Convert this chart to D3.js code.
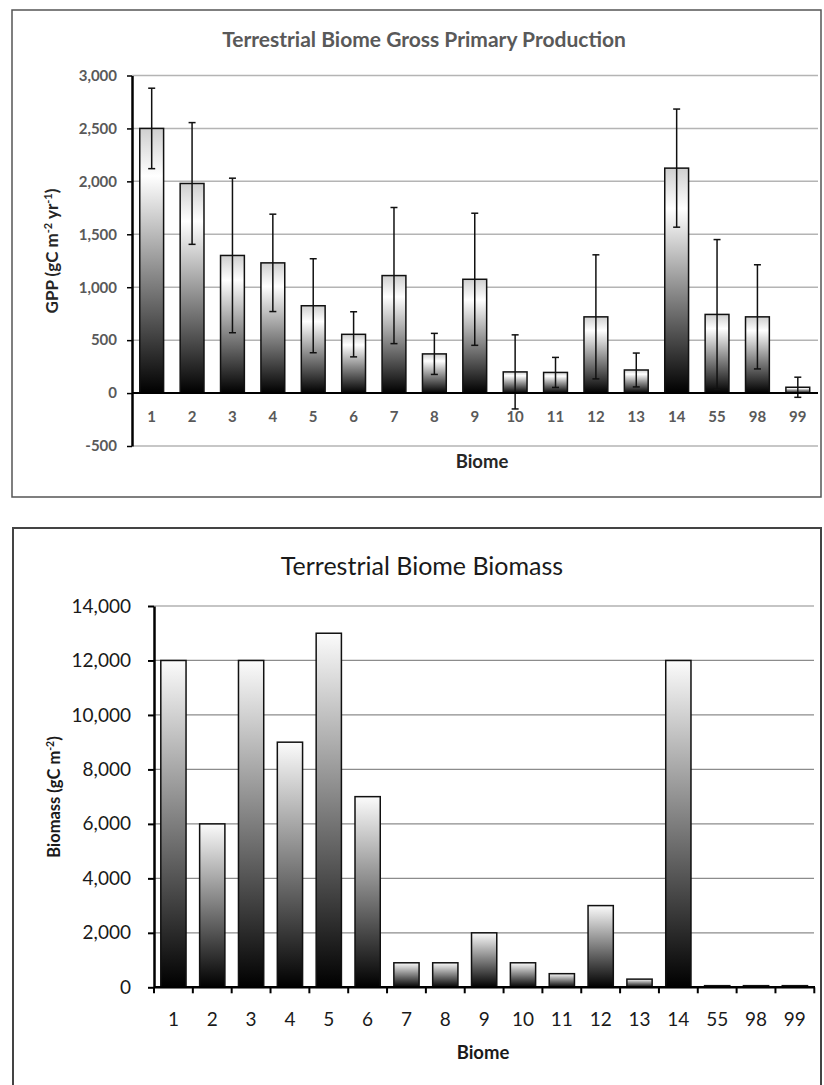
<!DOCTYPE html>
<html>
<head>
<meta charset="utf-8">
<script src="https://cdn.jsdelivr.net/npm/d3@7"></script>
<style>
  body { margin: 0; background: #fff; }
  svg { display: block; font-family: Lato, "Open Sans", sans-serif; }
</style>
</head>
<body>
<svg width="824" height="1085"></svg>
<script>
// data
var biomes = ["1","2","3","4","5","6","7","8","9","10","11","12","13","14","55","98","99"];
var gppMean = [2500,1980,1300,1230,825,555,1110,370,1075,200,195,720,218,2125,743,720,55];
var gppErr = [380,575,730,460,444,213,643,194,624,350,142,586,160,558,707,492,95];
var gppTicks = [-500,0,500,1000,1500,2000,2500,3000];
var biomass = [12000,6000,12000,9000,13000,7000,900,900,2000,900,500,3000,300,12000,60,60,60];
var biomassTicks = [0,2000,4000,6000,8000,10000,12000,14000];

var svg = d3.select('svg');
var comma = d3.format(',');
var fmt = function(d){ return comma(d).replace('\u2212', '-'); };
var defs = svg.append('defs');

// gradients, one per chart
var g1 = defs.append('linearGradient').attr('id','gradTop')
  .attr('x1',0).attr('y1',0).attr('x2',0).attr('y2',1);
g1.append('stop').attr('offset','0%').attr('stop-color','#cfcfcf');
g1.append('stop').attr('offset','18%').attr('stop-color','#ffffff');
g1.append('stop').attr('offset','55%').attr('stop-color','#8a8a8a');
g1.append('stop').attr('offset','100%').attr('stop-color','#000');

var g2 = defs.append('linearGradient').attr('id','gradBot')
  .attr('x1',0).attr('y1',0).attr('x2',0).attr('y2',1);
g2.append('stop').attr('offset','0%').attr('stop-color','#fbfbfb');
g2.append('stop').attr('offset','100%').attr('stop-color','#000');

var rows = biomes.map(function(b, i){
  return {biome: b, gpp: gppMean[i], err: gppErr[i], mass: biomass[i]};
});

// ---------- top chart: GPP ----------
svg.append('rect').attr('x',12).attr('y',10).attr('width',809).attr('height',487)
  .attr('fill','none').attr('stroke','#555').attr('stroke-width',1.5);

var x1 = d3.scaleBand().domain(biomes).range([131.5, 818]).paddingInner(0.41).paddingOuter(0.205);
var y1 = d3.scaleLinear().domain([-500, 3000]).range([446, 75.5]);

var gTop = svg.append('g');

gTop.append('g').selectAll('line').data(gppTicks).enter().append('line')
  .attr('x1',132).attr('x2',818)
  .attr('y1',function(d){return y1(d);}).attr('y2',function(d){return y1(d);})
  .attr('stroke','#b4b4b4').attr('stroke-width',1.5);

gTop.append('g').selectAll('rect').data(rows).enter().append('rect')
  .attr('x',function(d){return x1(d.biome);})
  .attr('width',x1.bandwidth())
  .attr('y',function(d){return y1(d.gpp);})
  .attr('height',function(d){return y1(0) - y1(d.gpp);})
  .attr('fill','url(#gradTop)').attr('stroke','#111').attr('stroke-width',1.5);

var eb = gTop.append('g').selectAll('g').data(rows).enter().append('g')
  .attr('stroke','#111').attr('stroke-width',1.5);
eb.append('line')
  .attr('x1',function(d){return x1(d.biome) + x1.bandwidth()/2;})
  .attr('x2',function(d){return x1(d.biome) + x1.bandwidth()/2;})
  .attr('y1',function(d){return y1(d.gpp + d.err);})
  .attr('y2',function(d){return y1(d.gpp - d.err);});
eb.append('line')
  .attr('x1',function(d){return x1(d.biome) + x1.bandwidth()/2 - 3.5;})
  .attr('x2',function(d){return x1(d.biome) + x1.bandwidth()/2 + 3.5;})
  .attr('y1',function(d){return y1(d.gpp + d.err);})
  .attr('y2',function(d){return y1(d.gpp + d.err);});
eb.append('line')
  .attr('x1',function(d){return x1(d.biome) + x1.bandwidth()/2 - 3.5;})
  .attr('x2',function(d){return x1(d.biome) + x1.bandwidth()/2 + 3.5;})
  .attr('y1',function(d){return y1(d.gpp - d.err);})
  .attr('y2',function(d){return y1(d.gpp - d.err);});

// zero line
gTop.append('line').attr('x1',132).attr('x2',818).attr('y1',y1(0)).attr('y2',y1(0))
  .attr('stroke','#000').attr('stroke-width',2);

var ya1 = gTop.append('g').attr('transform','translate(132,0)')
  .call(d3.axisLeft(y1).tickValues(gppTicks).tickFormat(fmt).tickSize(5).tickSizeOuter(0).tickPadding(10));
ya1.select('.domain').attr('stroke','#000').attr('stroke-width',2.5);
ya1.selectAll('.tick line').attr('stroke','#000').attr('stroke-width',1.5);
ya1.selectAll('.tick text').attr('fill','#595959').attr('font-family','Lato, sans-serif')
  .attr('font-size',15).attr('font-weight','bold');

gTop.append('g').selectAll('text').data(biomes).enter().append('text')
  .attr('x',function(d){return x1(d) + x1.bandwidth()/2;})
  .attr('y',422).attr('text-anchor','middle')
  .attr('fill','#595959').attr('font-size',15).attr('font-weight','bold')
  .text(function(d){return d;});

gTop.append('text').attr('x',424).attr('y',47).attr('text-anchor','middle')
  .attr('fill','#595959').attr('font-size',21).attr('font-weight','bold')
  .text('Terrestrial Biome Gross Primary Production');

gTop.append('text').attr('x',482).attr('y',468).attr('text-anchor','middle')
  .attr('fill','#262626').attr('font-size',18.5).attr('font-weight','bold')
  .text('Biome');

var yl1 = gTop.append('text').attr('transform','translate(58,251) rotate(-90)')
  .attr('text-anchor','middle').attr('fill','#262626').attr('font-size',17).attr('font-weight','bold');
yl1.append('tspan').text('GPP (gC m');
yl1.append('tspan').attr('font-size',11).attr('dy',-6).text('-2');
yl1.append('tspan').attr('dy',6).text(' yr');
yl1.append('tspan').attr('font-size',11).attr('dy',-6).text('-1');
yl1.append('tspan').attr('dy',6).text(')');

// ---------- bottom chart: biomass ----------
svg.append('rect').attr('x',13).attr('y',528).attr('width',808).attr('height',570)
  .attr('fill','none').attr('stroke','#444').attr('stroke-width',2);

var x2 = d3.scaleBand().domain(biomes).range([154, 814.3]).paddingInner(0.35).paddingOuter(0.175);
var y2 = d3.scaleLinear().domain([0, 14000]).range([987.3, 606]);

var gBot = svg.append('g');

gBot.append('g').selectAll('line').data(biomassTicks.slice(1)).enter().append('line')
  .attr('x1',154).attr('x2',814)
  .attr('y1',function(d){return y2(d);}).attr('y2',function(d){return y2(d);})
  .attr('stroke','#8c8c8c').attr('stroke-width',1.2);

gBot.append('g').selectAll('rect').data(rows).enter().append('rect')
  .attr('x',function(d){return x2(d.biome);})
  .attr('width',x2.bandwidth())
  .attr('y',function(d){return y2(d.mass);})
  .attr('height',function(d){return y2(0) - y2(d.mass);})
  .attr('fill','url(#gradBot)').attr('stroke','#111').attr('stroke-width',1.5);

var ya2 = gBot.append('g').attr('transform','translate(154,0)')
  .call(d3.axisLeft(y2).tickValues(biomassTicks).tickFormat(fmt).tickSize(6).tickSizeOuter(0).tickPadding(17));
ya2.select('.domain').attr('stroke','#000').attr('stroke-width',2.5);
ya2.selectAll('.tick line').attr('stroke','#000').attr('stroke-width',2);
ya2.selectAll('.tick text').attr('fill','#1a1a1a').attr('font-family','Lato, sans-serif').attr('font-size',19);

// x axis with ticks between categories
gBot.append('line').attr('x1',154).attr('x2',815).attr('y1',y2(0)).attr('y2',y2(0))
  .attr('stroke','#000').attr('stroke-width',2.5);
var step = x2.step();
gBot.append('g').selectAll('line').data(d3.range(biomes.length + 1)).enter().append('line')
  .attr('x1',function(i){return 154 + i*step;}).attr('x2',function(i){return 154 + i*step;})
  .attr('y1',y2(0)).attr('y2',y2(0) + 6)
  .attr('stroke','#000').attr('stroke-width',2);

gBot.append('g').selectAll('text').data(biomes).enter().append('text')
  .attr('x',function(d){return x2(d) + x2.bandwidth()/2;})
  .attr('y',1026).attr('text-anchor','middle')
  .attr('fill','#1a1a1a').attr('font-size',19)
  .text(function(d){return d;});

gBot.append('text').attr('x',422).attr('y',575).attr('text-anchor','middle')
  .attr('fill','#1a1a1a').attr('font-size',25)
  .text('Terrestrial Biome Biomass');

gBot.append('text').attr('x',483).attr('y',1059).attr('text-anchor','middle')
  .attr('fill','#1a1a1a').attr('font-size',18.5).attr('font-weight','bold')
  .text('Biome');

var yl2 = gBot.append('text').attr('transform','translate(60,797) rotate(-90)')
  .attr('text-anchor','middle').attr('fill','#1a1a1a').attr('font-size',16.5).attr('font-weight','bold');
yl2.append('tspan').text('Biomass (gC m');
yl2.append('tspan').attr('font-size',10.5).attr('dy',-6).text('-2');
yl2.append('tspan').attr('dy',6).text(')');
</script>
</body>
</html>
